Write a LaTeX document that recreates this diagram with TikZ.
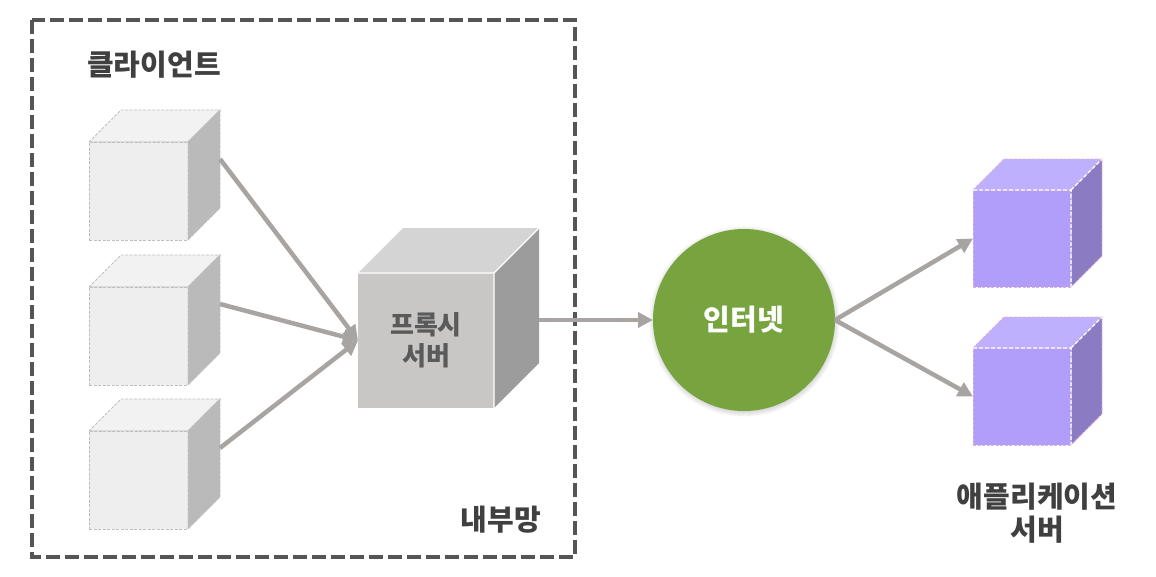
\documentclass[tikz,border=0pt]{standalone}
\usepackage{fontspec}
\setmainfont{Noto Sans CJK KR Black}
\usetikzlibrary{arrows.meta,shadows}
\definecolor{frameline}{RGB}{85,85,85}
\definecolor{linkgray}{RGB}{168,164,162}
\definecolor{labeldark}{RGB}{64,64,64}
\definecolor{proxytext}{RGB}{90,90,90}
\definecolor{netgreen}{RGB}{120,164,64}
\tikzset{
  netframe/.style={draw=frameline, line width=4pt, dash pattern=on 14pt off 5pt},
  link/.style={-{Triangle[length=15pt,width=15pt]}, linkgray, line width=4.5pt},
  title/.style={font=\fontsize{29}{33}\selectfont, text=labeldark, align=center, inner sep=0pt},
  clientfront/.style={draw=black!25, dash pattern=on 3pt off 1.5pt, fill=black!6.5, line width=0.8pt},
  clienttop/.style={draw=black!25, dash pattern=on 3pt off 1.5pt, fill=black!5, line width=0.8pt},
  clientside/.style={draw=black!25, dash pattern=on 3pt off 1.5pt, fill=black!27, line width=0.8pt},
  clientedge/.style={draw=black!25, dash pattern=on 3pt off 1.5pt, line width=0.8pt},
  proxyfront/.style={fill={rgb,255:red,201;green,199;blue,198},
                     font=\fontsize{26}{31}\selectfont, text=proxytext, align=center},
  proxytop/.style={fill=black!17},
  proxyside/.style={fill=black!39},
  proxyedge/.style={draw=white, line width=1.2pt},
  appfront/.style={draw=white!70!violet, dash pattern=on 3pt off 1.5pt, fill={rgb,255:red,177;green,158;blue,251}, line width=0.9pt},
  apptop/.style={draw=white!70!violet, dash pattern=on 3pt off 1.5pt, fill={rgb,255:red,191;green,176;blue,253}, line width=0.9pt},
  appside/.style={draw=white!70!violet, dash pattern=on 3pt off 1.5pt, fill={rgb,255:red,139;green,123;blue,195}, line width=0.9pt},
  appedge/.style={draw=white, dash pattern=on 4pt off 2pt, line width=1.1pt},
}
% name, look, x, y, width, height, depth, text
\newcommand{\cubebox}[8]{
  \path[#2top] (#3,#4) -- ++(#7,-#7) -- ++(#5,0) -- ++(-#7,#7) -- cycle;
  \path[#2side] (#3+#5,#4) -- ++(#7,-#7) -- ++(0,#6) -- ++(-#7,#7) -- cycle;
  \node[#2front, anchor=north west, inner sep=0pt, outer sep=0pt,
        minimum width=#5pt, minimum height=#6pt] (#1) at (#3,#4) {#8};
  \path[#2edge] (#1.north west) -- (#1.north east) -- (#1.south east)
                (#1.north east) -- ++(#7,-#7);
  \coordinate (#1-r) at (#3+#5+#7,#4-#7+#6/2);
}

\begin{document}
\begin{tikzpicture}[x=1pt,y=-1pt]
  \useasboundingbox (0,0) rectangle (1156,576);
  % --- internal network
  \draw[netframe] (32,20) rectangle (575,557);
  \node[title] (clients) at (154,65) {클라이언트};
  \node[title] (lan) at (501,520) {내부망};
  % --- clients
  \foreach \n/\y in {c1/142,c2/287,c3/431}{
    \cubebox{\n}{client}{89}{\y}{99}{98}{32}{}
  }
  % --- proxy
  \cubebox{proxy}{proxy}{358}{273}{136}{135}{45}{프록시\\서버}
  % --- internet
  \node[circle, fill=netgreen, text=white, minimum size=182pt, inner sep=0pt, outer sep=0pt,
        font=\fontsize{29}{33}\selectfont,
        circular drop shadow={shadow xshift=0pt, shadow yshift=-1pt, shadow scale=1.05, opacity=0.7}]
       (net) at (744,320) {인터넷};
  % --- application servers
  \foreach \n/\y in {a1/190,a2/348}{
    \cubebox{\n}{app}{973}{\y}{98}{97}{31}{}
  }
  \node[title] (apps) at (1037,513) {애플리케이션\\서버};
  % --- links
  \foreach \n in {c1,c2,c3}{
    \draw[link] (\n-r) -- (proxy.west);}
  \draw[link] (proxy-r |- net.west) -- (net.west);
  \foreach \n in {a1,a2}{
    \draw[link] (net.east) -- (\n.west);}
\end{tikzpicture}
\end{document}
